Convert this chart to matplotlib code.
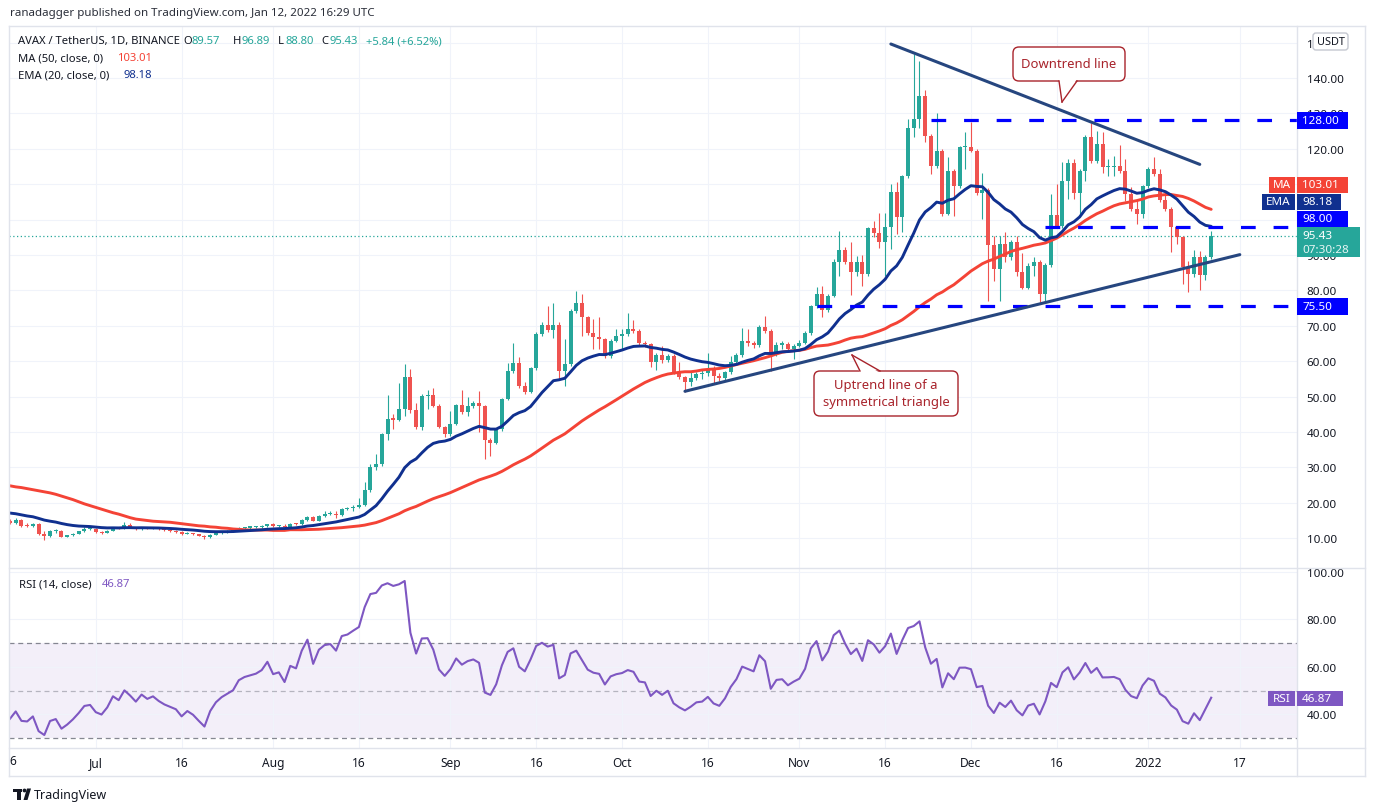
#!/usr/bin/env python3
"""
AVAX / TetherUS daily chart with MA50, EMA20, RSI(14) and drawn levels.
"""

import numpy as np
import pandas as pd
import matplotlib
matplotlib.use('Agg')
import matplotlib.pyplot as plt
from matplotlib.patches import Rectangle, FancyBboxPatch, Polygon, Circle
from matplotlib.lines import Line2D
from matplotlib.transforms import IdentityTransform

W, H, DPI = 1375, 812, 100

# ---- data (one candle per day from 2021-06-16) ----
first_day = pd.Timestamp('2021-06-16')

opens = [
    15.0, 14.3, 15.1, 13.8, 13.4, 13.9, 11.3, 10.5, 11.9, 12.1,
    10.4, 10.8, 11.3, 11.9, 12.6, 12.7, 11.8, 11.5, 12.1, 13.1,
    12.7, 13.6, 13.1, 12.5, 13.1, 12.7, 12.9, 12.5, 12.2, 12.0,
    11.8, 11.2, 11.5, 11.2, 10.7, 10.2, 11.0, 11.5, 11.8, 12.0,
    12.2, 12.8, 13.0, 13.1, 13.2, 13.4, 13.9, 13.4, 13.5, 13.1,
    14.0, 13.9, 15.1, 16.1, 15.0, 16.3, 16.8, 16.9, 16.6, 18.2,
    18.4, 18.9, 19.4, 23.6, 30.0, 30.9, 39.4, 43.8, 43.5, 46.5,
    55.4, 46.3, 41.3, 50.2, 50.4, 47.4, 41.5, 39.4, 42.4, 47.6,
    45.7, 47.4, 48.2, 47.3, 37.8, 36.9, 40.8, 49.3, 57.1, 59.5,
    53.1, 51.4, 58.1, 67.7, 70.2, 68.9, 70.2, 57.3, 59.2, 74.1,
    76.4, 72.4, 68.1, 66.7, 66.2, 61.5, 65.8, 67.0, 67.6, 69.1,
    68.5, 65.1, 64.8, 59.8, 61.7, 60.2, 61.6, 57.0, 55.4, 54.2,
    55.2, 56.4, 56.6, 57.8, 55.9, 55.2, 56.9, 59.7, 61.8, 65.6,
    65.1, 64.6, 69.8, 68.6, 62.0, 64.7, 64.9, 63.4, 64.4, 65.2,
    68.0, 75.5, 79.0, 74.6, 78.5, 88.0, 91.4, 88.0, 85.1, 88.1,
    84.6, 97.5, 96.2, 93.6, 97.8, 107.7, 100.6, 112.2, 125.8, 128.4,
    135.0, 123.7, 115.2, 119.5, 101.6, 113.8, 109.6, 120.4, 120.5, 119.5,
    107.5, 108.4, 92.8, 86.0, 93.1, 89.3, 93.6, 85.3, 80.6, 86.8,
    88.0, 79.0, 87.3, 101.3, 98.1, 111.0, 116.0, 107.5, 113.8, 123.4,
    116.6, 121.4, 114.8, 114.9, 115.2, 113.8, 107.2, 103.0, 101.6, 109.4,
    114.3, 112.9, 105.4, 103.0, 97.8, 95.0, 86.5, 84.5, 89.3, 84.3,
    89.57,
]
highs = [
    15.4, 15.6, 15.4, 14.2, 14.3, 14.4, 11.9, 12.2, 12.5, 12.2,
    11.0, 11.5, 12.1, 13.2, 13.2, 12.9, 11.9, 12.2, 13.3, 13.3,
    14.5, 14.4, 13.3, 13.3, 13.3, 13.1, 13.1, 12.7, 12.4, 12.3,
    11.9, 11.7, 11.6, 11.3, 10.9, 11.2, 11.6, 12.0, 12.2, 12.4,
    13.1, 13.2, 13.3, 13.5, 13.6, 14.1, 14.3, 13.8, 13.9, 14.2,
    14.4, 15.3, 16.4, 16.3, 16.5, 17.6, 17.8, 17.6, 18.4, 18.7,
    19.4, 21.3, 25.8, 30.9, 33.7, 39.8, 50.4, 45.1, 53.8, 59.2,
    57.8, 48.3, 50.7, 51.8, 52.3, 47.8, 41.8, 46.0, 48.0, 51.8,
    49.8, 48.8, 51.5, 47.6, 38.2, 41.2, 49.6, 59.6, 65.1, 61.1,
    54.0, 58.5, 68.2, 71.2, 75.7, 76.4, 71.0, 66.3, 74.7, 79.7,
    78.9, 72.9, 71.9, 72.6, 66.6, 66.2, 69.1, 69.1, 73.6, 71.6,
    69.2, 65.8, 65.2, 62.3, 64.4, 62.0, 61.9, 59.7, 55.8, 57.3,
    57.0, 57.8, 62.3, 58.6, 56.6, 57.3, 61.6, 62.2, 69.3, 69.1,
    65.6, 70.1, 72.9, 69.0, 65.4, 65.8, 65.3, 64.8, 65.9, 68.5,
    76.0, 80.9, 81.3, 79.0, 88.9, 96.9, 92.2, 93.8, 89.8, 90.0,
    97.9, 99.7, 102.0, 102.0, 110.0, 110.5, 112.6, 128.4, 146.8, 144.9,
    136.7, 124.2, 130.1, 119.9, 117.6, 114.3, 120.9, 124.8, 127.5, 120.0,
    113.1, 109.0, 95.4, 95.4, 96.6, 94.1, 95.4, 90.7, 87.7, 89.3,
    88.5, 87.8, 107.2, 110.0, 116.2, 117.1, 117.1, 114.3, 123.9, 127.3,
    125.1, 124.8, 117.1, 118.1, 121.1, 117.1, 109.1, 105.8, 109.9, 114.8,
    117.6, 114.3, 107.7, 103.5, 98.3, 95.4, 88.4, 91.5, 91.0, 90.0,
    96.89,
]
lows = [
    14.0, 14.1, 13.2, 13.1, 13.2, 11.0, 9.6, 10.3, 11.6, 10.2,
    10.2, 10.6, 11.2, 11.8, 12.3, 11.6, 11.3, 11.4, 11.9, 12.5,
    12.6, 13.0, 12.3, 12.4, 12.5, 12.6, 12.3, 12.0, 11.7, 11.6,
    11.0, 11.1, 11.0, 10.5, 9.9, 10.0, 10.8, 11.3, 11.6, 11.8,
    12.0, 12.5, 12.7, 12.9, 12.9, 13.3, 13.2, 13.1, 12.9, 13.0,
    13.6, 13.7, 14.9, 14.8, 14.8, 16.1, 16.5, 15.6, 16.4, 17.9,
    17.8, 18.6, 19.2, 23.0, 29.4, 30.5, 37.8, 40.8, 43.0, 44.6,
    45.5, 40.8, 40.6, 46.5, 47.0, 41.0, 38.5, 39.0, 42.0, 45.2,
    44.4, 46.8, 39.9, 32.4, 33.3, 36.5, 40.3, 48.9, 56.6, 52.5,
    50.8, 50.9, 57.5, 67.0, 68.3, 66.5, 55.1, 52.9, 58.6, 73.5,
    67.2, 67.5, 63.4, 63.4, 60.8, 61.0, 65.3, 63.2, 67.2, 68.0,
    64.6, 64.0, 58.5, 57.6, 59.6, 59.8, 56.5, 55.0, 51.4, 53.1,
    54.6, 55.0, 55.8, 53.6, 54.5, 54.8, 56.4, 59.0, 61.3, 64.4,
    63.8, 64.1, 68.0, 57.3, 61.5, 63.4, 62.8, 60.6, 63.9, 64.8,
    67.5, 75.0, 72.4, 74.0, 78.0, 84.2, 87.4, 78.7, 84.2, 81.3,
    84.0, 95.0, 91.9, 84.0, 91.7, 95.9, 96.4, 111.7, 123.2, 126.0,
    121.8, 112.9, 114.5, 101.0, 101.2, 101.1, 109.0, 114.3, 119.0, 107.0,
    100.2, 77.1, 82.7, 77.1, 88.1, 88.6, 84.0, 80.4, 80.4, 84.1,
    76.6, 76.6, 86.5, 97.6, 97.6, 105.8, 105.8, 101.6, 111.0, 116.0,
    116.0, 113.2, 112.4, 112.2, 113.2, 105.3, 102.5, 98.8, 100.4, 108.9,
    112.3, 104.9, 102.3, 90.8, 93.1, 81.8, 79.5, 83.7, 80.2, 83.0,
    88.80,
]
closes = [
    14.3, 15.1, 13.5, 13.4, 13.9, 11.3, 10.5, 11.9, 12.1, 10.4,
    10.8, 11.3, 11.9, 12.6, 12.7, 11.8, 11.5, 12.1, 13.1, 12.7,
    13.6, 13.1, 12.5, 13.1, 12.7, 12.9, 12.5, 12.2, 12.0, 11.8,
    11.2, 11.5, 11.2, 10.7, 10.2, 11.0, 11.5, 11.8, 12.0, 12.2,
    12.8, 13.0, 13.1, 13.2, 13.4, 13.9, 13.4, 13.5, 13.1, 14.0,
    13.9, 15.1, 16.1, 15.0, 16.3, 16.8, 16.9, 16.6, 18.2, 18.4,
    18.9, 19.4, 23.6, 30.0, 30.9, 39.4, 43.8, 43.5, 46.5, 55.4,
    46.3, 41.3, 50.2, 50.4, 47.4, 41.5, 39.4, 42.4, 47.6, 45.7,
    47.4, 48.2, 47.3, 37.8, 36.9, 40.8, 49.3, 57.1, 59.5, 53.1,
    51.4, 58.1, 67.7, 70.2, 68.9, 70.2, 57.3, 59.2, 74.1, 76.4,
    72.4, 68.1, 66.7, 66.2, 61.5, 65.8, 67.0, 67.6, 69.1, 68.5,
    65.1, 64.8, 59.8, 61.7, 60.2, 61.6, 57.0, 55.4, 54.2, 55.2,
    56.4, 56.6, 57.8, 55.9, 55.2, 56.9, 59.7, 61.8, 65.6, 65.1,
    64.6, 69.8, 68.6, 62.0, 64.7, 64.9, 63.4, 64.4, 65.2, 68.0,
    75.5, 79.0, 74.6, 78.5, 88.0, 91.4, 88.0, 85.1, 88.1, 84.6,
    97.5, 96.2, 93.6, 97.8, 107.7, 100.6, 112.2, 125.8, 128.4, 135.0,
    123.7, 115.2, 119.5, 101.6, 113.8, 109.6, 120.4, 120.5, 119.5, 107.5,
    108.4, 92.8, 86.0, 93.1, 89.3, 93.6, 85.3, 80.6, 86.8, 88.0,
    79.0, 87.3, 101.3, 98.1, 111.0, 116.0, 107.5, 113.8, 123.4, 116.6,
    121.4, 114.8, 114.9, 115.2, 113.8, 107.2, 103.0, 101.6, 109.4, 114.3,
    112.9, 105.4, 103.0, 97.8, 95.0, 86.5, 84.5, 89.3, 84.3, 89.57,
    95.43,
]

# MA50 for the first 49 days (needs history before the visible window)
ma50_head = [
    24.8, 24.5, 24.3, 24.0, 23.7, 23.4, 23.1, 22.8, 22.4, 21.9,
    21.4, 20.9, 20.3, 19.7, 19.2, 18.7, 18.2, 17.7, 17.2, 16.8,
    16.3, 15.8, 15.4, 15.2, 15.0, 14.8, 14.7, 14.6, 14.5, 14.3,
    14.1, 13.9, 13.7, 13.5, 13.4, 13.2, 13.1, 12.9, 12.8, 12.6,
    12.5, 12.4, 12.3, 12.3, 12.3, 12.3, 12.2, 12.2, 12.2,
]
ema20_first = 17.1
rsi_first_gain, rsi_first_loss = 0.45, 0.73

# horizontal levels (price, first day)
levels = [128.00, 98.00, 75.50]
level_start = ['2021-11-24', '2021-12-14', '2021-11-04']
# trendlines ((date, price), (date, price))
downtrend = [('2021-11-17', 149.6), ('2022-01-10', 115.6)]
uptrend = [('2021-10-12', 51.5), ('2022-01-17', 90.1)]

last_price = 95.43
ma_last, ema_last, rsi_last = '103.01', '98.18', '46.87'

tick_dates = ['2021-07-01', '2021-07-16', '2021-08-01', '2021-08-16', '2021-09-01',
              '2021-09-16', '2021-10-01', '2021-10-16', '2021-11-01', '2021-11-16',
              '2021-12-01', '2021-12-16', '2022-01-01', '2022-01-17']
tick_labels = ['Jul', '16', 'Aug', '16', 'Sep', '16', 'Oct', '16', 'Nov', '16',
               'Dec', '16', '2022', '17']

UP, DOWN = '#26a69a', '#ef5350'
MA_C, EMA_C, RSI_C = '#f44336', '#10308f', '#7e57c2'
LEVEL_C, TREND_C, NOTE_C = '#0000ff', '#26467f', '#a8232b'
TXT, GRID, FRAME = '#131722', '#f0f3fa', '#e0e3eb'


def day(d):
    return (pd.Timestamp(d) - first_day).days


def main():
    plt.rcParams['font.family'] = ['Noto Sans', 'DejaVu Sans']
    o, hi, lo, c = (np.array(a, dtype=float) for a in (opens, highs, lows, closes))
    n = len(c)
    x = np.arange(n)

    # indicators
    ema = np.empty(n)
    ema[0] = ema20_first
    alpha = 2 / 21
    for i in range(1, n):
        ema[i] = ema[i - 1] + alpha * (c[i] - ema[i - 1])
    ma = np.empty(n)
    ma[:49] = ma50_head
    for i in range(49, n):
        ma[i] = c[i - 49:i + 1].mean()
    rsi = np.empty(n)
    ag, al = rsi_first_gain, rsi_first_loss
    rsi[0] = 100 - 100 / (1 + ag / al)
    for i in range(1, n):
        d = c[i] - c[i - 1]
        ag = (ag * 13 + max(d, 0)) / 14
        al = (al * 13 + max(-d, 0)) / 14
        rsi[i] = 100 - 100 / (1 + ag / al)

    fig = plt.figure(figsize=(W / DPI, H / DPI), dpi=DPI)
    ID = IdentityTransform()

    def fx(px):
        return px / W

    def fy(py):
        return 1 - py / H

    ax = fig.add_axes([fx(9), fy(569), fx(1297) - fx(9), fy(27) - fy(569)])
    axr = fig.add_axes([fx(9), fy(749), fx(1297) - fx(9), fy(570) - fy(749)], sharex=ax)

    # pixel mapping of the reference: x = 10 + 5.72*day, 140 -> y79, 3.54 px per unit
    ax.set_xlim((9 - 10) / 5.72, (1297 - 10) / 5.72)
    ax.set_ylim(140 - (569 - 79) / 3.54, 140 + (79 - 27) / 3.54)
    axr.set_ylim(40 - (749 - 715.3) / 2.375, 40 + (715.3 - 570) / 2.375)

    ticks = [day(d) for d in tick_dates]
    for a in (ax, axr):
        for s in a.spines.values():
            s.set_visible(False)
        a.set_xticks(ticks)
        a.grid(True, color=GRID, lw=0.8)
        a.set_axisbelow(True)
        a.yaxis.tick_right()
        a.tick_params(length=0, labelsize=8.4, labelcolor=TXT, pad=7)
    ax.tick_params(labelbottom=False)
    axr.set_xticklabels(tick_labels)
    axr.tick_params(axis='x', pad=6, labelsize=8.6)
    for lab in axr.get_xticklabels():
        if lab.get_text() == '2022':
            lab.set_fontweight('bold')

    # labels at 100 and 110 sit fully under the scale boxes, as on the reference
    yt = np.arange(10, 151, 10)
    ax.set_yticks(yt)
    ax.set_yticklabels(['' if v in (100, 110) else f'{v:.2f}' for v in yt])
    axr.set_yticks([40, 60, 80, 100])
    axr.set_yticklabels(['40.00', '60.00', '80.00', '100.00'])

    # candles
    col = np.where(c >= o, UP, DOWN)
    ax.vlines(x, lo, hi, colors=col, lw=0.8, zorder=2)
    body = np.maximum(np.abs(c - o), 0.35)
    ax.bar(x, body, bottom=np.minimum(o, c), width=0.7, color=col, lw=0, zorder=2)

    ax.plot(x, ma, color=MA_C, lw=2.1, zorder=3, solid_capstyle='round')
    ax.plot(x, ema, color=EMA_C, lw=2.1, zorder=3, solid_capstyle='round')

    # last price dotted line
    ax.axhline(last_price, color=UP, lw=0.9, ls=(0, (1, 2)), zorder=1)

    # drawn levels and trendlines
    right = (1297 - 10) / 5.72
    for lv, st in zip(levels, level_start):
        ax.plot([day(st), right], [lv, lv], color=LEVEL_C, lw=2.3,
                ls=(0, (4.6, 5.6)), zorder=4, solid_capstyle='butt')
    for (d0, p0), (d1, p1) in (downtrend, uptrend):
        ax.plot([day(d0), day(d1)], [p0, p1], color=TREND_C, lw=2.2, zorder=4,
                solid_capstyle='round')

    # RSI panel
    axr.axhspan(30, 70, color=RSI_C, alpha=0.09, lw=0, zorder=0)
    for lv, al_ in ((70, 0.9), (30, 0.9), (50, 0.5)):
        axr.axhline(lv, color='#787b86', lw=0.9, ls=(0, (4, 3)), alpha=al_, zorder=1)
    axr.plot(x, rsi, color=RSI_C, lw=1.5, zorder=3)

    # ---- frame lines ----
    def hline(y, x0=9, x1=1365):
        fig.add_artist(Line2D([x0, x1], [H - y, H - y], transform=ID, color=FRAME, lw=1))

    def vline(xp, y0=27, y1=777):
        fig.add_artist(Line2D([xp, xp], [H - y0, H - y1], transform=ID, color=FRAME, lw=1))

    for y in (27, 569, 749, 777):
        hline(y)
    for xp in (9, 1297, 1365):
        vline(xp)

    def ftext(xp, yp, s, **kw):
        kw.setdefault('va', 'center')
        kw.setdefault('fontsize', 8.1)
        kw.setdefault('zorder', 10)
        return fig.text(xp, H - yp, s, transform=ID, **kw)

    def box(x0, x1, y0, y1, color, ec=None, r=0):
        if r:
            p = FancyBboxPatch((x0, H - y1), x1 - x0, y1 - y0,
                               boxstyle=f'round,pad=0,rounding_size={r}',
                               transform=ID, fc=color, ec=ec or color, lw=1, zorder=5)
        else:
            p = Rectangle((x0, H - y1), x1 - x0, y1 - y0, transform=ID,
                          fc=color, ec='none', zorder=5)
        fig.add_artist(p)

    # header
    ftext(10, 14, 'ranadagger published on TradingView.com, Jan 12, 2022 16:29 UTC',
          color='#2a2e39', fontsize=8.3)
    ftext(18, 42, 'AVAX / TetherUS, 1D, BINANCE', color=TXT)
    for lx, letter, vx, val in ((183, 'O', 192, '89.57'), (233, 'H', 242, '96.89'),
                                (278, 'L', 285, '88.80'), (321, 'C', 330, '95.43')):
        ftext(lx, 42, letter, color=TXT)
        ftext(vx, 42, val, color=UP)
    ftext(366, 42, '+5.84 (+6.52%)', color=UP)
    ftext(18, 59, 'MA (50, close, 0)', color=TXT)
    ftext(117, 59, ma_last, color=MA_C)
    ftext(18, 76, 'EMA (20, close, 0)', color=TXT)
    ftext(123, 76, ema_last, color=EMA_C)
    ftext(19, 585, 'RSI (14, close)', color=TXT)
    ftext(102, 585, rsi_last, color=RSI_C)

    # right scale labels
    box(1313, 1348, 34, 51, 'white', ec='#c5c8d0', r=3)
    ftext(1330.5, 42.5, 'USDT', color=TXT, ha='center', fontsize=7.9)

    def ypx(p):
        return 79 + (140 - p) * 3.54

    # scale boxes; 98.00 is pushed up above the last-price box like on the reference
    box_centres = {128.00: ypx(128.00), 98.00: 220.0, 75.50: ypx(75.50)}
    for lv in levels:
        yc = box_centres[lv]
        box(1297, 1348, yc - 8.5, yc + 8.5, LEVEL_C)
        ftext(1302, yc, f'{lv:.2f}', color='white', fontsize=8.4)
    box(1269, 1295, 178, 194, MA_C)
    ftext(1282, 186, 'MA', color='white', ha='center', fontsize=8.4)
    box(1297, 1348, 178, 194, MA_C)
    ftext(1302, 186, ma_last, color='white', fontsize=8.4)
    box(1262, 1295, 194.5, 211, EMA_C)
    ftext(1278.5, 203, 'EMA', color='white', ha='center', fontsize=8.4)
    box(1297, 1341, 194.5, 211, EMA_C)
    ftext(1302, 203, ema_last, color='white', fontsize=8.4)
    box(1297, 1360, 228, 258, UP)
    ftext(1302, 237, f'{last_price:.2f}', color='white', fontsize=8.4)
    ftext(1302, 250.5, '07:30:28', color='#e6f5f3', fontsize=8.4)
    box(1268, 1295, 692, 707, RSI_C)
    ftext(1281.5, 699.5, 'RSI', color='white', ha='center', fontsize=8.4)
    box(1297, 1343, 692, 707, RSI_C)
    ftext(1302, 699.5, rsi_last, color='white', fontsize=8.4)

    # clipped first date label at the left edge
    ftext(13, 762, '6', color=TXT, ha='center', fontsize=8.6)

    # callouts
    def callout(x0, x1, y0, y1, base, apex, lines, ty):
        box(x0, x1, y0, y1, 'white', ec=NOTE_C, r=6)
        by = y0 if apex[1] < y0 else y1
        inset = 2 if by == y1 else -2
        fig.add_artist(Polygon([(base[0], H - by + inset), (base[1], H - by + inset),
                                (apex[0], H - apex[1])], closed=True, transform=ID,
                               fc='white', ec='none', zorder=6))
        for bx in base:
            fig.add_artist(Line2D([bx, apex[0]], [H - by, H - apex[1]], transform=ID,
                                  color=NOTE_C, lw=1, zorder=7))
        for k, s in enumerate(lines):
            ftext((x0 + x1) / 2, ty + 17 * k, s, color=NOTE_C, ha='center',
                  fontsize=9.4)

    callout(1013, 1125, 48, 82, (1059, 1077), (1062, 103), ['Downtrend line'], 64.5)
    callout(814, 958, 372, 417, (860, 880), (852, 356),
            ['Uptrend line of a', 'symmetrical triangle'], 386)

    # TradingView mark
    fig.add_artist(Rectangle((13, H - 793), 9, 3.5, transform=ID, fc='#131722', ec='none'))
    fig.add_artist(Rectangle((17, H - 801), 4, 10, transform=ID, fc='#131722', ec='none'))
    fig.add_artist(Circle((24.5, H - 791.5), 1.9, transform=ID, fc='#131722', ec='none'))
    fig.add_artist(Polygon([(27, H - 789.5), (31, H - 789.5), (27.5, H - 801), (23.5, H - 801)],
                           transform=ID, fc='#131722', ec='none'))
    ftext(34, 795.5, 'TradingView', color='#131722', fontsize=9.0, fontweight='bold')

    fig.savefig('out.png', dpi=DPI, facecolor='white')
    plt.close(fig)


if __name__ == '__main__':
    main()
